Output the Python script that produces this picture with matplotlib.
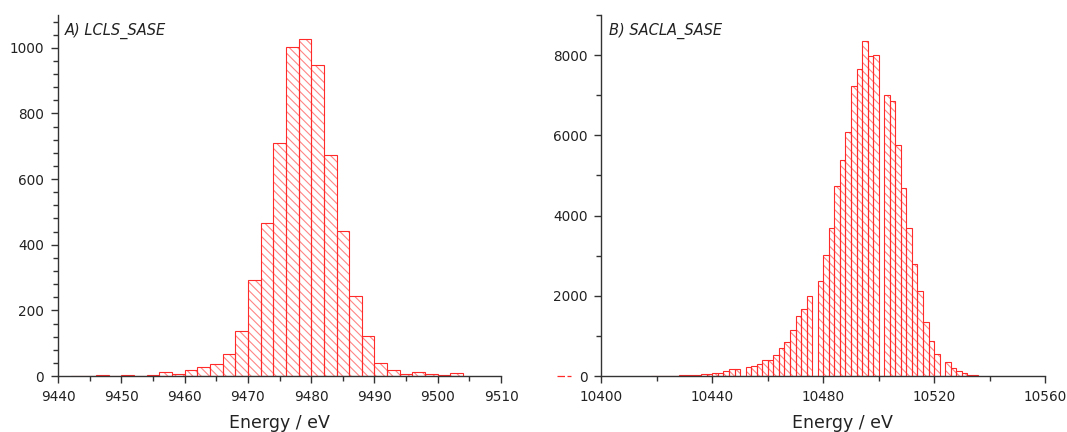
import matplotlib.pyplot as plt
import numpy as np
from matplotlib.ticker import MultipleLocator

# histogram data, 2 eV bins, counts
bin_width = 2
lcls_start = 9442
lcls_counts = [1, 1, 3, 1, 3, 0, 2, 11, 6, 18, 26, 37, 67, 137, 294, 465, 710,
               1002, 1028, 948, 675, 443, 245, 123, 41, 17, 6, 11, 5, 3, 8]

sacla_start = 10418
sacla_counts = [8, 0, 8, 0, 8, 17, 17, 25, 33, 42, 50, 66, 83, 133, 166, 175, 0,
                216, 258, 307, 407, 407, 532, 706, 839, 1155, 1504, 1670, 1985, 0,
                2367, 3023, 3688, 4734, 5391, 6080, 7243, 7666, 8347, 7982, 8007, 0,
                7010, 6853, 5748, 4685, 3688, 2783, 2110, 1350, 880, 540, 0,
                345, 191, 125, 66, 25, 17]

edge_red = "#ff2b2b"
hatch_red = "#ff8585"
axis_col = "#333333"

plt.rcParams["hatch.linewidth"] = 0.8
plt.rcParams["font.family"] = "DejaVu Sans"

fig = plt.figure(figsize=(10.67, 4.32), dpi=100)
ax1 = fig.add_axes([0.0544, 0.1296, 0.4152, 0.8356])
ax2 = fig.add_axes([0.5637, 0.1296, 0.4157, 0.8356])


def draw_hist(ax, start, counts):
    x = start + bin_width * np.arange(len(counts))
    ax.bar(x, counts, width=bin_width, align="edge", facecolor="white",
           edgecolor=hatch_red, hatch="\\\\\\\\", linewidth=0)
    ax.bar(x, counts, width=bin_width, align="edge", fill=False,
           edgecolor=edge_red, linewidth=0.8)


def style_axes(ax, label_x):
    for s in ["top", "right"]:
        ax.spines[s].set_visible(False)
    for s in ["left", "bottom"]:
        ax.spines[s].set_color(axis_col)
        ax.spines[s].set_linewidth(1.0)
        ax.spines[s].set_zorder(5)
    ax.tick_params(which="major", direction="out", length=5, width=1.0,
                   color=axis_col, labelcolor="#222222", labelsize=9.8, pad=5)
    ax.tick_params(which="minor", direction="out", length=3.5, width=1.0,
                   color=axis_col)
    ax.set_xlabel("Energy / eV", fontsize=12.5, color="#222222")
    ax.xaxis.set_label_coords(label_x, -0.105)


# A) LCLS
draw_hist(ax1, lcls_start, lcls_counts)
ax1.set_xlim(9440, 9510)
ax1.set_ylim(0, 1100)
ax1.xaxis.set_major_locator(MultipleLocator(10))
ax1.xaxis.set_minor_locator(MultipleLocator(5))
ax1.yaxis.set_major_locator(MultipleLocator(200))
ax1.yaxis.set_minor_locator(MultipleLocator(40))
style_axes(ax1, 0.5)
ax1.text(0.016, 0.955, "A) LCLS_SASE", transform=ax1.transAxes, style="italic",
         fontsize=10.5, color="#222222", ha="left", va="center")

# B) SACLA
draw_hist(ax2, sacla_start, sacla_counts)
ax2.set_xlim(10400, 10560)
ax2.set_ylim(0, 9000)
ax2.xaxis.set_major_locator(MultipleLocator(40))
ax2.xaxis.set_minor_locator(MultipleLocator(20))
ax2.yaxis.set_major_locator(MultipleLocator(2000))
ax2.yaxis.set_minor_locator(MultipleLocator(1000))
style_axes(ax2, 0.543)
ax2.text(0.016, 0.955, "B) SACLA_SASE", transform=ax2.transAxes, style="italic",
         fontsize=10.5, color="#222222", ha="left", va="center")
# small red dash left of the zero label
ax2.plot([-0.101, -0.068], [0, 0], transform=ax2.transAxes, color=edge_red,
         lw=0.9, ls=(0, (6, 2)), clip_on=False)

fig.savefig("out.png", dpi=100)
